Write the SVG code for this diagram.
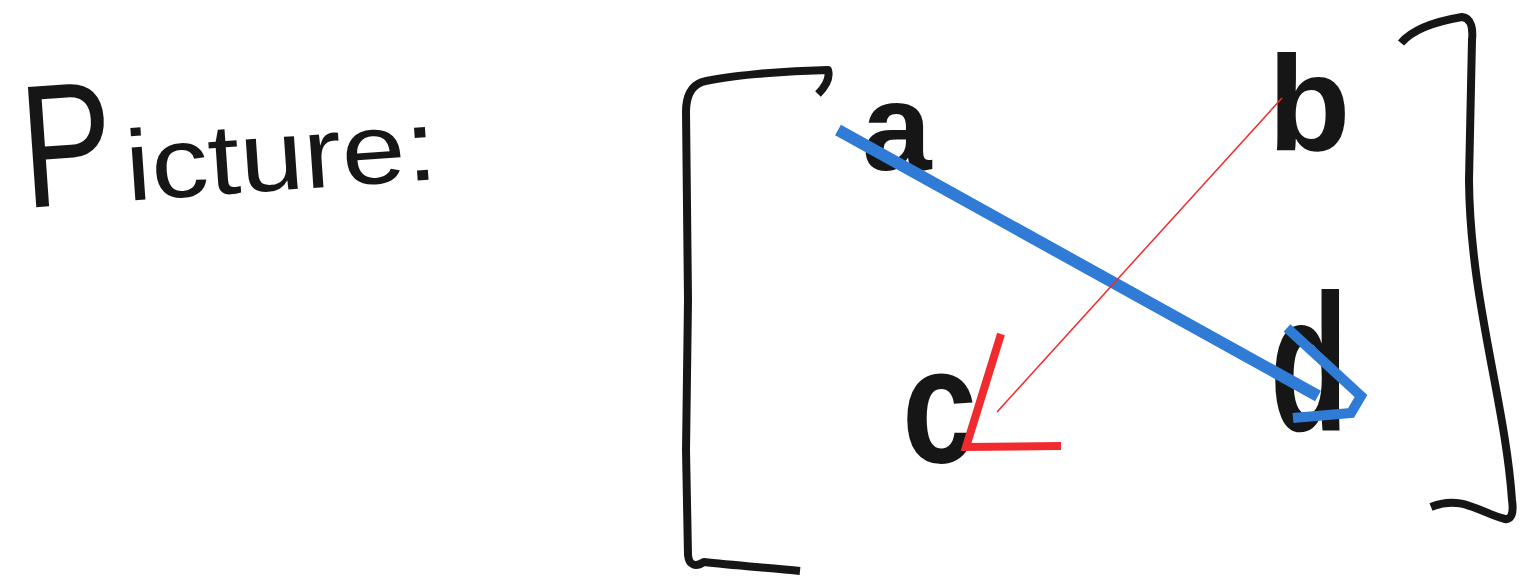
<svg xmlns="http://www.w3.org/2000/svg" width="1523" height="577" viewBox="0 0 1523 577">
<style>
.ink{fill:none;stroke:#161616;stroke-width:8;stroke-linecap:butt;stroke-linejoin:round}
.lbl{font-family:"Liberation Sans",Arial,sans-serif;fill:#161616}
.blue{fill:none;stroke:#2f7bd6;stroke-linejoin:miter}
.red{fill:none;stroke:#f02a2e}
</style>
<rect width="1523" height="577" fill="#ffffff"/>
<g id="title">
<text class="lbl" y="208" transform="rotate(-4 25 208)"><tspan x="25" font-size="175" textLength="92" lengthAdjust="spacingAndGlyphs">P</tspan><tspan x="128" font-size="100" textLength="312" lengthAdjust="spacingAndGlyphs">icture:</tspan></text>
</g>
<g id="left-bracket">
<path class="ink" d="M818 94 C826 86 830 77 828 70 C780 71 725 76 702 82 C691 86 686 96 686 112 L688 300 L686 450 L688 555 C689 566 696 567 704 562 C730 565 770 568 800 571"/>
</g>
<g id="right-bracket">
<path class="ink" d="M1401 43 C1412 30 1432 22 1462 17 C1472 18 1473 30 1472 40 L1469 180 C1470 300 1505 400 1512 500 C1514 514 1511 520 1505 519 C1482 514 1462 494 1431 507"/>
</g>
<g id="node-a"><text class="lbl" x="862" y="170" font-size="125" font-weight="bold">a</text></g>
<g id="node-b"><text class="lbl" x="1268" y="150" font-size="135" font-weight="bold">b</text></g>
<g id="node-c"><text class="lbl" x="902" y="462" font-size="165" font-weight="bold" textLength="75" lengthAdjust="spacingAndGlyphs">c</text></g>
<g id="node-d"><text class="lbl" x="1270" y="430" font-size="195" font-weight="bold" textLength="78" lengthAdjust="spacingAndGlyphs">d</text></g>
<g id="connectors">
<path class="blue" stroke-width="12" d="M838 130 L1318 396"/>
<path class="blue" stroke-width="10" d="M1287 328 L1361 396 L1351 413 L1293 418"/>
<path class="red" stroke-width="1.5" d="M1282 98 L997 412"/>
<path class="red" stroke-width="8" stroke-linejoin="miter" d="M1001 334 L966 447 L1061 446"/>
</g>
</svg>
